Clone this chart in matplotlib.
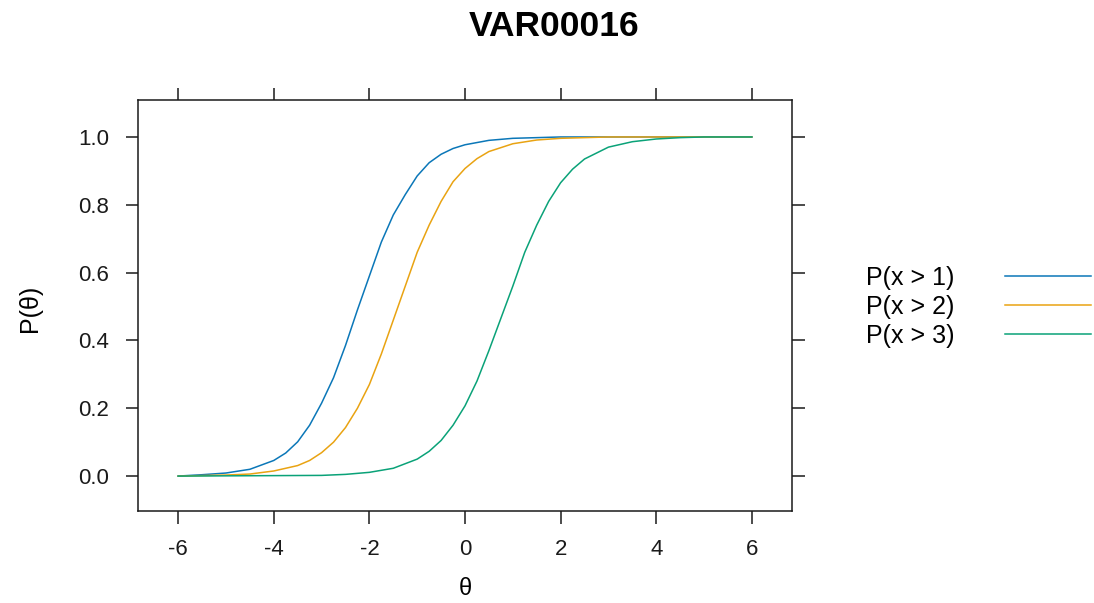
import matplotlib
matplotlib.use("Agg")
import matplotlib.pyplot as plt

plt.rcParams['font.family'] = ['Liberation Sans', 'DejaVu Sans']

title = "VAR00016"
x_label = "θ"
y_label = "P(θ)"
series_labels = ["P(x > 1)", "P(x > 2)", "P(x > 3)"]
series_colors = ["#0B77B8", "#E9A312", "#0AA278"]

theta_1 = [-6.0, -5.5, -5.0, -4.5, -4.0, -3.75, -3.5, -3.25, -3.0, -2.75, -2.5,
           -2.25, -2.0, -1.75, -1.5, -1.25, -1.0, -0.75, -0.5, -0.25, 0.0,
           0.5, 1.0, 1.5, 2.0, 6.0]
p_1 = [0.0, 0.004, 0.009, 0.02, 0.046, 0.068, 0.101, 0.15, 0.215, 0.29, 0.385,
       0.49, 0.59, 0.69, 0.77, 0.83, 0.885, 0.924, 0.949, 0.966, 0.977,
       0.99, 0.996, 0.998, 1.0, 1.0]

theta_2 = [-6.0, -5.0, -4.5, -4.0, -3.5, -3.25, -3.0, -2.75, -2.5, -2.25, -2.0,
           -1.75, -1.5, -1.25, -1.0, -0.75, -0.5, -0.25, 0.0, 0.25, 0.5,
           1.0, 1.5, 2.0, 3.0, 6.0]
p_2 = [0.0, 0.003, 0.006, 0.015, 0.031, 0.046, 0.069, 0.10, 0.143, 0.20, 0.27,
       0.36, 0.46, 0.56, 0.66, 0.74, 0.81, 0.868, 0.907, 0.936, 0.957,
       0.98, 0.991, 0.996, 1.0, 1.0]

theta_3 = [-6.0, -3.0, -2.5, -2.0, -1.5, -1.0, -0.75, -0.5, -0.25, 0.0, 0.25,
           0.5, 0.75, 1.0, 1.25, 1.5, 1.75, 2.0, 2.25, 2.5, 3.0,
           3.5, 4.0, 4.5, 5.0, 6.0]
p_3 = [0.0, 0.002, 0.005, 0.011, 0.023, 0.05, 0.073, 0.105, 0.15, 0.207, 0.28,
       0.37, 0.465, 0.56, 0.66, 0.74, 0.81, 0.865, 0.905, 0.935, 0.97,
       0.986, 0.994, 0.998, 1.0, 1.0]

x_ticks = [-6, -4, -2, 0, 2, 4, 6]
y_ticks = [0.0, 0.2, 0.4, 0.6, 0.8, 1.0]
y_ticklabels = ["0.0", "0.2", "0.4", "0.6", "0.8", "1.0"]

fig = plt.figure(figsize=(10.94, 6.03), dpi=100)
ax = fig.add_axes([138 / 1094, 1 - 511 / 603, (792 - 138) / 1094, (511 - 100) / 603])

for th, p, lab, col in zip([theta_1, theta_2, theta_3], [p_1, p_2, p_3],
                           series_labels, series_colors):
    ax.plot(th, p, color=col, lw=1.1, label=lab)

ax.set_xlim(-6.84, 6.84)
ax.set_ylim(-0.103, 1.109)
ax.set_xticks(x_ticks)
ax.set_xticklabels([str(t) for t in x_ticks])
ax.set_yticks(y_ticks)
ax.set_yticklabels(y_ticklabels)
ax.tick_params(axis='both', direction='out', length=9, width=1.1, color='#1a1a1a',
               labelsize=16, labelcolor='#1a1a1a', top=True, right=True,
               labeltop=False, labelright=False)
ax.tick_params(axis='x', pad=11)
ax.tick_params(axis='y', pad=12)
for s in ax.spines.values():
    s.set_linewidth(1.1)
    s.set_color('#1a1a1a')

fig.text(0.506, 1 - 27 / 603, title, ha='center', va='center', fontsize=25.5,
         fontweight='bold')
fig.text(465 / 1094, 1 - 589 / 603, x_label, ha='center', va='center', fontsize=17)
fig.text(30 / 1094, 1 - 308 / 603, y_label, ha='center', va='center', fontsize=18,
         rotation=90)

leg = fig.legend(loc='center left', bbox_to_anchor=(866 / 1094, 1 - 307 / 603),
                 frameon=False, fontsize=18, markerfirst=False, handlelength=3.45,
                 handletextpad=2.0, labelspacing=0.2, borderpad=0, borderaxespad=0)

fig.savefig("out.png", dpi=100)
